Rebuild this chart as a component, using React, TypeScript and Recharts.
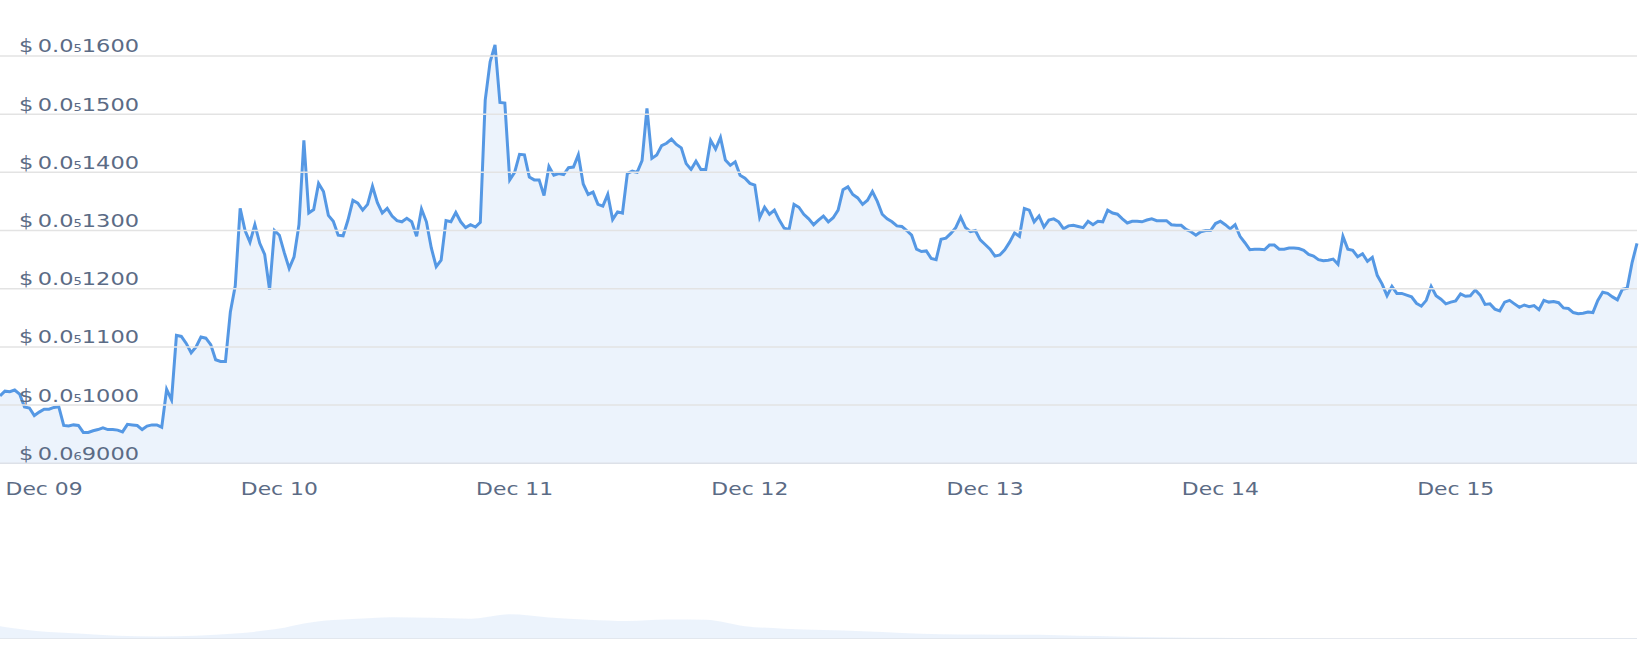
import { Area, AreaChart, ReferenceLine, XAxis, YAxis } from "recharts";

// Half-hourly prices in units of $0.000000001, starting Dec 08 19:30
const dec08 = [1016, 1024, 1023, 1026, 1019, 997, 995, 982, 988];
const dec09 = [
  993, 993, 996, 997, 965, 964, 966, 965, 953, 953, 956, 958,
  961, 958, 958, 957, 954, 967, 966, 965, 958, 964, 966, 966,
  962, 1027, 1009, 1120, 1118, 1106, 1090, 1100, 1117, 1115, 1104, 1078,
  1075, 1075, 1160, 1205, 1338, 1300, 1280, 1310, 1278, 1259, 1198, 1300,
];
const dec10 = [
  1292, 1262, 1235, 1255, 1310, 1455, 1330, 1336, 1381, 1367, 1326, 1316,
  1292, 1291, 1318, 1352, 1347, 1335, 1345, 1376, 1348, 1330, 1338, 1325,
  1317, 1315, 1321, 1315, 1290, 1337, 1315, 1270, 1238, 1249, 1317, 1315,
  1331, 1315, 1305, 1310, 1306, 1314, 1524, 1590, 1619, 1520, 1519, 1387,
];
const dec11 = [
  1400, 1431, 1430, 1392, 1387, 1387, 1360, 1410, 1395, 1398, 1396, 1408,
  1409, 1430, 1380, 1362, 1366, 1345, 1342, 1362, 1319, 1332, 1330, 1398,
  1402, 1400, 1420, 1510, 1424, 1430, 1446, 1450, 1457, 1448, 1442, 1415,
  1405, 1419, 1405, 1405, 1455, 1440, 1460, 1421, 1412, 1418, 1395, 1390,
];
const dec12 = [
  1381, 1378, 1322, 1340, 1328, 1335, 1318, 1304, 1302, 1345, 1340, 1328,
  1320, 1310, 1318, 1325, 1315, 1322, 1335, 1370, 1375, 1362, 1356, 1345,
  1352, 1367, 1350, 1328, 1320, 1315, 1308, 1307, 1300, 1292, 1268, 1264,
  1265, 1252, 1250, 1285, 1287, 1295, 1305, 1323, 1305, 1298, 1300, 1284,
];
const dec13 = [
  1276, 1268, 1256, 1258, 1267, 1280, 1296, 1290, 1338, 1335, 1315, 1325,
  1306, 1318, 1320, 1315, 1303, 1308, 1309, 1307, 1305, 1316, 1310, 1316,
  1315, 1335, 1330, 1328, 1320, 1313, 1316, 1316, 1315, 1318, 1320, 1317,
  1317, 1317, 1310, 1309, 1309, 1302, 1298, 1292, 1298, 1300, 1300, 1312,
];
const dec14 = [
  1316, 1310, 1303, 1310, 1290, 1279, 1267, 1268, 1268, 1267, 1275, 1275,
  1268, 1268, 1270, 1270, 1269, 1266, 1259, 1256, 1250, 1248, 1249, 1251,
  1242, 1290, 1268, 1266, 1255, 1260, 1247, 1254, 1223, 1208, 1188, 1204,
  1192, 1192, 1189, 1186, 1175, 1170, 1180, 1204, 1188, 1182, 1174, 1177,
];
const dec15 = [
  1179, 1191, 1187, 1188, 1198, 1189, 1173, 1174, 1165, 1162, 1177, 1180,
  1174, 1168, 1172, 1169, 1171, 1164, 1180, 1177, 1178, 1176, 1167, 1166,
  1159, 1157, 1158, 1160, 1159, 1180, 1194, 1192, 1186, 1181, 1199, 1201,
  1245, 1278,
];

// overview strip, one value every 4 hours
const overview = [
  40, 24, 17, 10, 8, 10, 17, 30, 53, 62, 68, 66, 63, 77, 67, 60, 56, 61, 60, 40, 32,
  28, 24, 19, 15, 14, 13, 12, 9, 6, 5, 4, 3, 2, 1, 1, 2, 3, 3, 3, 3, 3, 3,
];

const dayTicks = [0, 24, 48, 72, 96, 120, 144];
const dayLabels = ["Dec 09", "Dec 10", "Dec 11", "Dec 12", "Dec 13", "Dec 14", "Dec 15"];
const priceTicks = [900, 1000, 1100, 1200, 1300, 1400, 1500, 1600];

const START_HOUR = -4.5;
const STEP_HOURS = 0.5;
const prices = [...dec08, ...dec09, ...dec10, ...dec11, ...dec12, ...dec13, ...dec14, ...dec15];
const data = prices.map((price, i) => ({ t: START_HOUR + i * STEP_HOURS, price }));
const END_HOUR = START_HOUR + (prices.length - 1) * STEP_HOURS;
const overviewData = overview.map((level, i) => ({ t: START_HOUR + i * 4, level }));

const TEXT = "#5b6b85";
const FONT = "'DejaVu Sans', Verdana, sans-serif";
const BLUE = "#5598e4";

function splitPrice(v: number) {
  const real = v * 1e-9;
  const zeros = -Math.floor(Math.log10(real)) - 1;
  const digits = Math.round(real * Math.pow(10, zeros + 4));
  return { zeros, digits: String(digits) };
}

function PriceLabel(props: any) {
  const { viewBox, price } = props;
  const y = viewBox ? viewBox.y : 0;
  const { zeros, digits } = splitPrice(price);
  return (
    <g transform={`translate(19, ${y - 3.5}) scale(1.25, 1)`}>
      <text x={0} y={0} fill={TEXT} fontSize={18} fontFamily={FONT} textAnchor="start">
        $<tspan dx={3.5}>0.0</tspan>
        <tspan fontSize={10.5}>{zeros}</tspan>
        <tspan>{digits}</tspan>
      </text>
    </g>
  );
}

function DayTick(props: any) {
  const { x, payload } = props;
  const label = dayLabels[dayTicks.indexOf(payload.value)];
  return (
    <g transform={`translate(${x}, 495) scale(1.25, 1)`}>
      <text x={0} y={0} textAnchor="middle" fill={TEXT} fontSize={17.5} fontFamily={FONT}>
        {label}
      </text>
    </g>
  );
}

export default function App() {
  return (
    <div style={{ position: "absolute", left: 0, top: 0, width: 1640, height: 646, background: "#fff" }}>
      <AreaChart width={1640} height={500} data={data} margin={{ top: 9.4, right: 3, bottom: 0, left: 0 }}>
        <XAxis
          dataKey="t"
          type="number"
          domain={[START_HOUR, END_HOUR]}
          ticks={dayTicks}
          tick={<DayTick />}
          axisLine={false}
          tickLine={false}
          height={36.7}
        />
        <YAxis type="number" domain={[900, 1680]} hide />
        {priceTicks.map((p) => (
          <ReferenceLine
            key={p}
            y={p}
            stroke={p === 900 ? "#dde1e8" : "#e3e3e3"}
            strokeWidth={1.5}
            label={<PriceLabel price={p} />}
          />
        ))}
        <Area
          type="linear"
          dataKey="price"
          stroke={BLUE}
          strokeWidth={3}
          fill={BLUE}
          fillOpacity={0.115}
          baseValue={900}
          isAnimationActive={false}
          dot={false}
          activeDot={false}
        />
      </AreaChart>
      <div style={{ position: "absolute", left: 0, top: 596 }}>
        <AreaChart width={1640} height={43} data={overviewData} margin={{ top: 0, right: 3, bottom: 0, left: 0 }}>
          <XAxis dataKey="t" type="number" domain={[START_HOUR, END_HOUR]} allowDataOverflow hide />
          <YAxis type="number" domain={[0, 134]} hide />
          <Area
            type="monotone"
            dataKey="level"
            stroke="none"
            fill={BLUE}
            fillOpacity={0.115}
            isAnimationActive={false}
            dot={false}
            activeDot={false}
          />
          <ReferenceLine y={0} stroke="#dfe3ea" strokeWidth={1.5} ifOverflow="visible" />
        </AreaChart>
      </div>
    </div>
  );
}
